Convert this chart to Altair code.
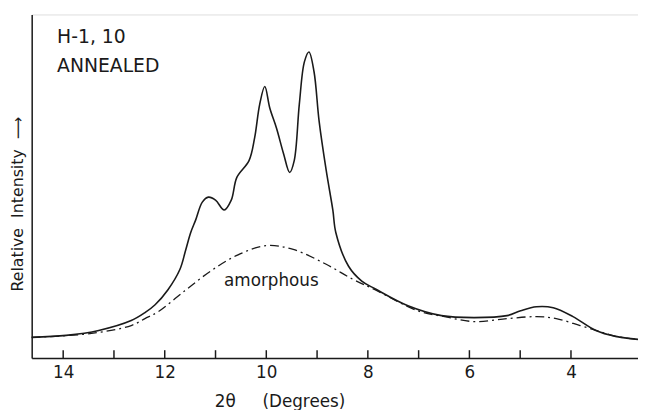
import altair as alt
import pandas as pd

# ---- data (2-theta in degrees, relative intensity) ----
solid_deg = [14.62, 13.94, 13.30, 12.66, 12.39, 12.19, 11.94, 11.70, 11.59, 11.49,
             11.39, 11.26, 11.14, 11.00, 10.83, 10.69, 10.58, 10.34, 10.23, 10.13,
             10.03, 9.93, 9.80, 9.66, 9.54, 9.45, 9.35, 9.25, 9.16, 9.06,
             8.96, 8.82, 8.69, 8.63, 8.38, 8.12, 7.85, 7.21, 6.55, 5.91,
             5.26, 4.99, 4.68, 4.35, 3.96, 3.51, 3.12, 2.68]
solid_int = [21, 23, 28, 38, 46, 54, 69, 90, 109, 127,
             140, 158, 163, 160, 150, 160, 183, 200, 223, 257,
             275, 253, 233, 207, 188, 200, 257, 300, 310, 290,
             240, 190, 150, 127, 93, 78, 70, 53, 43, 41,
             43, 48, 52, 51, 42, 28, 22, 19]

amor_deg = [14.62, 13.44, 12.66, 12.39, 12.13, 11.61, 11.10, 10.58, 10.00, 9.47, 8.82,
            8.30, 7.85, 7.02, 6.49, 5.91, 5.26, 4.68, 4.29, 3.82, 3.44, 3.12, 2.68]
amor_int = [21, 25, 33, 40, 47, 68, 88, 104, 114, 110, 95,
            80, 69, 48, 42, 37, 40, 42, 40, 33, 27, 22, 19]

tick_values = [14, 13, 12, 11, 10, 9, 8, 7, 6, 5, 4]
label_values = [14, 12, 10, 8, 6, 4]

FONT = "DejaVu Sans"
INK = "#1a1a1a"
W, H = 614, 348
NB = "\u00a0"

solid = pd.DataFrame({"deg": solid_deg, "I": solid_int})
amor = pd.DataFrame({"deg": amor_deg, "I": amor_int})
ticks = pd.DataFrame({"deg": tick_values})
one = pd.DataFrame({"a": [0]})

x_scale = alt.Scale(domain=[2.68, 14.62], reverse=True, nice=False, zero=False)
y_scale = alt.Scale(domain=[0, 348], nice=False, zero=True)

xaxis = alt.Axis(values=label_values, ticks=False, tickSize=0, labelPadding=7,
                 labelFont=FONT, labelFontSize=17, labelColor=INK,
                 domainColor=INK, domainWidth=1.5, grid=False,
                 title="2θ" + NB * 5 + "(Degrees)", titleFont=FONT, titleFontSize=17,
                 titleFontWeight="normal", titleColor=INK,
                 titleX=185, titleY=44, titleAlign="left", titleBaseline="middle")
yaxis = alt.Axis(ticks=False, labels=False, grid=False, title=None,
                 domainColor=INK, domainWidth=1.5)

X = lambda: alt.X("deg:Q", scale=x_scale, axis=xaxis)
Y = lambda: alt.Y("I:Q", scale=y_scale, axis=yaxis)

solid_line = alt.Chart(solid).mark_line(color=INK, strokeWidth=1.6,
                                        interpolate="catmull-rom").encode(x=X(), y=Y())
amor_line = alt.Chart(amor).mark_line(color=INK, strokeWidth=1.3, strokeDash=[9, 4, 2, 4],
                                      interpolate="catmull-rom").encode(x=X(), y=Y())
tick_marks = alt.Chart(ticks).mark_rule(color=INK, strokeWidth=1.5).encode(
    x=X(), y=alt.value(H), y2=alt.value(H - 8))

def label(txt, xv, yv, size, align="left"):
    return alt.Chart(one).mark_text(align=align, baseline="middle", font=FONT,
                                    fontSize=size, color=INK).encode(
        x=alt.X(datum=xv, scale=x_scale, axis=xaxis),
        y=alt.Y(datum=yv, scale=y_scale, axis=yaxis),
        text=alt.value(txt))

t1 = label("H-1, 10", 14.12, 325, 19)
t2 = label("ANNEALED", 14.12, 296, 19)
t3 = label("amorphous", 9.90, 78, 17, align="center")

ytitle = alt.Chart(one).mark_text(angle=270, align="center", baseline="middle",
                                  font=FONT, fontSize=16, color=INK).encode(
    x=alt.value(-14), y=alt.value(192),
    text=alt.value("Relative" + NB * 2 + "Intensity" + NB * 2 + "⟶"))

chart = alt.layer(tick_marks, amor_line, solid_line, t1, t2, t3, ytitle).properties(
    width=W, height=H,
    autosize=alt.AutoSizeParams(type="none"),
    padding={"left": 24, "top": 4, "right": 0, "bottom": 50},
).configure_view(stroke=None).configure(background="white")

chart.save("out.html", embed_options={"renderer": "svg", "actions": False})
